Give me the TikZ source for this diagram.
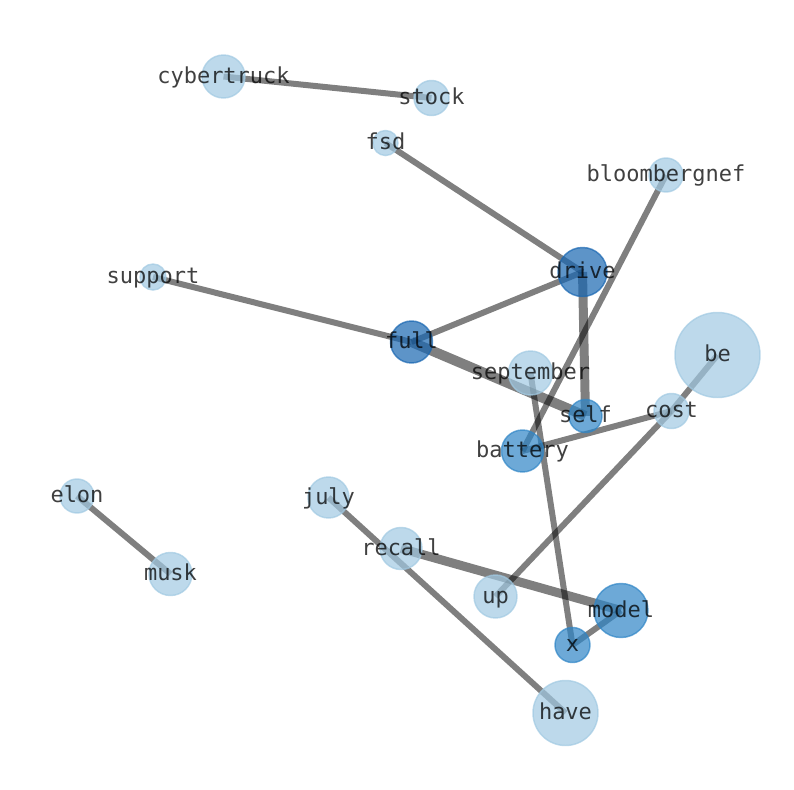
\documentclass[tikz,border=0pt]{standalone}
\usepackage{fontspec}
\newfontfamily\monof{DejaVu Sans Mono}
\usetikzlibrary{backgrounds}
\definecolor{clight}{HTML}{A1C9E2}
\definecolor{cmid}{HTML}{2F85C6}
\definecolor{cdark}{HTML}{1866B1}
\tikzset{
  vtx/.style={circle, inner sep=0pt, fill opacity=0.7, draw opacity=0.7, line width=1.1pt},
  lightv/.style={vtx, fill=clight, draw=clight},
  midv/.style={vtx, fill=cmid, draw=cmid},
  darkv/.style={vtx, fill=cdark, draw=cdark},
  rad/.style={minimum size=#1*1.5pt},
  lab/.style={font=\monof\fontsize{16.5}{18}\selectfont, text=black, text opacity=0.75,
    text height=0.76em, text depth=0.24em, inner sep=0pt, anchor=center, yshift=-2.6pt},
  edge/.style={draw=black, draw opacity=0.5, line width=4.5pt},
  thick9/.style={line width=6.75pt},
  thick10/.style={line width=7.5pt},
}
\begin{document}
\begin{tikzpicture}[x=0.75pt, y=-0.75pt]
\useasboundingbox (0,0) rectangle (794,790);
% nodes
\node[lightv, rad=21.5] (cybertruck) at (223.5,76.5) {};
\node[lightv, rad=17.5] (stock) at (431.5,98) {};
\node[lightv, rad=12.5] (fsd) at (385.5,143) {};
\node[lightv, rad=17] (bloombergnef) at (666,175) {};
\node[darkv, rad=24.5] (drive) at (582.5,272) {};
\node[lightv, rad=13] (support) at (153,277) {};
\node[darkv, rad=21] (full) at (411.5,342) {};
\node[lightv, rad=42.5] (be) at (717.5,355) {};
\node[lightv, rad=22] (september) at (530.5,373) {};
\node[midv, rad=16.5] (self) at (585.5,416) {};
\node[lightv, rad=17.5] (cost) at (671.5,411) {};
\node[midv, rad=21] (battery) at (522.5,451) {};
\node[lightv, rad=17] (elon) at (77,496) {};
\node[lightv, rad=20.5] (july) at (328.5,497.5) {};
\node[lightv, rad=21] (recall) at (401,548.5) {};
\node[lightv, rad=21.5] (musk) at (170.5,574) {};
\node[lightv, rad=21.5] (up) at (495.5,596.5) {};
\node[midv, rad=27] (model) at (621,610.5) {};
\node[midv, rad=17.5] (x) at (572.5,645) {};
\node[lightv, rad=32.5] (have) at (565.5,713) {};
% edges
\begin{scope}[on background layer]
\draw[edge] (cybertruck.center) -- (stock.center);
\draw[edge] (fsd.center) -- (drive.center);
\draw[edge] (bloombergnef.center) -- (battery.center);
\draw[edge] (drive.center) -- (full.center);
\draw[edge, thick9] (drive.center) -- (self.center);
\draw[edge] (support.center) -- (full.center);
\draw[edge, thick10] (full.center) -- (self.center);
\draw[edge] (september.center) -- (x.center);
\draw[edge] (battery.center) -- (cost.center);
\draw[edge] (cost.center) -- (be.center);
\draw[edge] (cost.center) -- (up.center);
\draw[edge] (elon.center) -- (musk.center);
\draw[edge] (july.center) -- (have.center);
\draw[edge, thick9] (recall.center) -- (model.center);
\draw[edge] (model.center) -- (x.center);
\end{scope}
% labels
\node[lab] (l-cybertruck) at (cybertruck) {cybertruck};
\node[lab] (l-stock) at (stock) {stock};
\node[lab] (l-fsd) at (fsd) {fsd};
\node[lab] (l-bloombergnef) at (bloombergnef) {bloombergnef};
\node[lab] (l-drive) at (drive) {drive};
\node[lab] (l-support) at (support) {support};
\node[lab] (l-full) at (full) {full};
\node[lab] (l-be) at (be) {be};
\node[lab] (l-september) at (september) {september};
\node[lab] (l-self) at (self) {self};
\node[lab] (l-cost) at (cost) {cost};
\node[lab] (l-battery) at (battery) {battery};
\node[lab] (l-elon) at (elon) {elon};
\node[lab] (l-july) at (july) {july};
\node[lab] (l-recall) at (recall) {recall};
\node[lab] (l-musk) at (musk) {musk};
\node[lab] (l-up) at (up) {up};
\node[lab] (l-model) at (model) {model};
\node[lab] (l-x) at (x) {x};
\node[lab] (l-have) at (have) {have};
\end{tikzpicture}
\end{document}
